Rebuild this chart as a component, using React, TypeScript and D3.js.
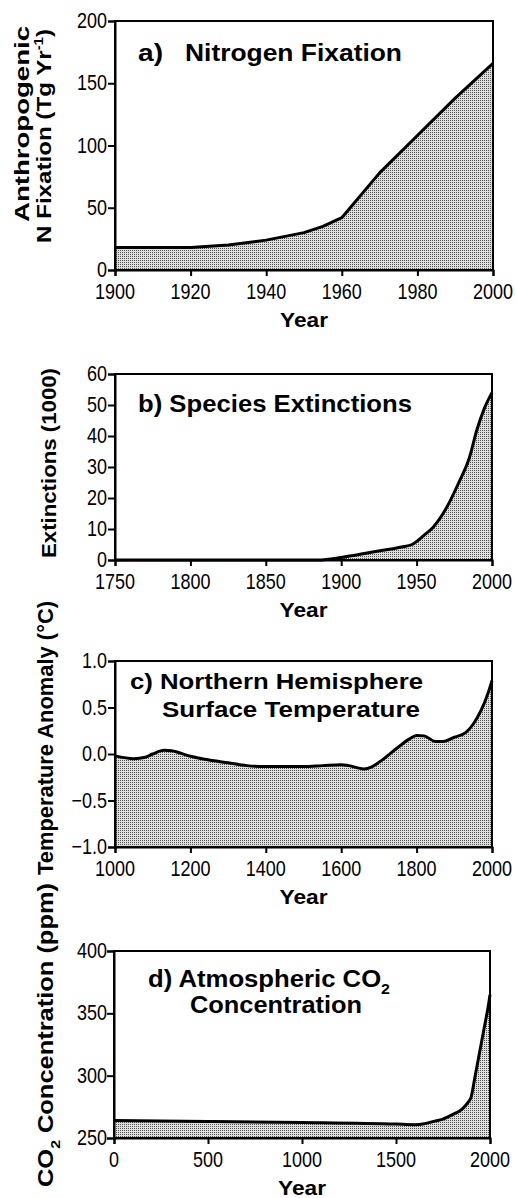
import React, { useEffect, useRef } from "react";
import * as d3 from "d3";

type Pt = [number, number];

// values: [year, value]
const nitrogenData: Pt[] = [
  [1900, 18], [1910, 18], [1920, 18], [1930, 20], [1940, 24], [1950, 30],
  [1955, 35], [1960, 42], [1970, 78], [1980, 108], [1990, 138], [2000, 166],
];
const extinctionData: Pt[] = [
  [1750, 0], [1800, 0], [1850, 0], [1885, 0], [1900, 0.8], [1920, 2.5],
  [1940, 4.2], [1947, 5], [1955, 8], [1961, 10.6], [1970, 17], [1978, 25],
  [1985, 33], [1990, 42], [1995, 49], [2000, 54],
];
const temperatureData: Pt[] = [
  [1000, -0.02], [1050, -0.05], [1080, -0.035], [1100, 0], [1130, 0.04],
  [1150, 0.035], [1200, -0.025], [1250, -0.065], [1300, -0.095], [1350, -0.125],
  [1400, -0.135], [1500, -0.135], [1550, -0.125], [1600, -0.115], [1620, -0.125],
  [1660, -0.16], [1680, -0.14], [1700, -0.09], [1750, 0.07], [1780, 0.16],
  [1800, 0.2], [1820, 0.195], [1850, 0.135], [1870, 0.135], [1900, 0.18],
  [1930, 0.23], [1950, 0.32], [1970, 0.46], [1990, 0.66], [2000, 0.79],
];
const co2Data: Pt[] = [
  [0, 264.1], [500, 263.3], [1000, 262.5], [1500, 261.2], [1600, 260.7],
  [1650, 261.5], [1700, 263.3], [1750, 265.2], [1800, 268.7], [1850, 273],
  [1880, 278], [1900, 283], [1920, 299], [1950, 323], [1970, 339],
  [1990, 355], [2000, 365],
];

const nitrogenYearTicks = [1900, 1920, 1940, 1960, 1980, 2000];
const nitrogenValueTicks = [0, 50, 100, 150, 200];
const extinctionYearTicks = [1750, 1800, 1850, 1900, 1950, 2000];
const extinctionValueTicks = [0, 10, 20, 30, 40, 50, 60];
const temperatureYearTicks = [1000, 1200, 1400, 1600, 1800, 2000];
const temperatureValueTicks = [-1, -0.5, 0, 0.5, 1];
const co2YearTicks = [0, 500, 1000, 1500, 2000];
const co2ValueTicks = [250, 300, 350, 400];

type Seg = { t: string; sub?: boolean; sup?: boolean };
type Label = { segs: Seg[]; x: number; y: number; len: number; size: number };

interface Panel {
  data: Pt[];
  xDomain: [number, number];
  yDomain: [number, number];
  left: number;
  right: number;
  top: number;
  bottom: number;
  xTicks: number[];
  yTicks: number[];
  yFormat: (v: number) => string;
  smooth: boolean;
  titles: Label[];
  yLabels: Label[];
}

const FONT = "'Liberation Sans', Arial, Helvetica, sans-serif";

const panels: Panel[] = [
  {
    data: nitrogenData,
    xDomain: [1900, 2000],
    yDomain: [0, 200],
    left: 115, right: 493, top: 21, bottom: 270,
    xTicks: nitrogenYearTicks,
    yTicks: nitrogenValueTicks,
    yFormat: (v) => String(v),
    smooth: false,
    titles: [
      { segs: [{ t: "a)" }], x: 138, y: 61, len: 25, size: 24 },
      { segs: [{ t: "Nitrogen Fixation" }], x: 185, y: 61, len: 217, size: 24 },
    ],
    yLabels: [
      { segs: [{ t: "Anthropogenic" }], x: 29, y: 124, len: 196, size: 21 },
      {
        segs: [{ t: "N Fixation (Tg Yr" }, { t: "-1", sup: true }, { t: ")" }],
        x: 51, y: 136, len: 214, size: 21,
      },
    ],
  },
  {
    data: extinctionData,
    xDomain: [1750, 2000],
    yDomain: [0, 60],
    left: 115, right: 492, top: 374, bottom: 560,
    xTicks: extinctionYearTicks,
    yTicks: extinctionValueTicks,
    yFormat: (v) => String(v),
    smooth: true,
    titles: [
      { segs: [{ t: "b) Species Extinctions" }], x: 138, y: 412, len: 274, size: 23 },
    ],
    yLabels: [
      { segs: [{ t: "Extinctions (1000)" }], x: 56, y: 463, len: 190, size: 21 },
    ],
  },
  {
    data: temperatureData,
    xDomain: [1000, 2000],
    yDomain: [-1, 1],
    left: 115, right: 492, top: 661, bottom: 847,
    xTicks: temperatureYearTicks,
    yTicks: temperatureValueTicks,
    yFormat: d3.format(".1f"),
    smooth: true,
    titles: [
      { segs: [{ t: "c) Northern Hemisphere" }], x: 130, y: 689, len: 293, size: 22 },
      { segs: [{ t: "Surface Temperature" }], x: 162, y: 717, len: 258, size: 22 },
    ],
    yLabels: [
      { segs: [{ t: "Temperature Anomaly (°C)" }], x: 53, y: 738, len: 274, size: 22 },
    ],
  },
  {
    data: co2Data,
    xDomain: [0, 2000],
    yDomain: [250, 400],
    left: 114, right: 490, top: 951, bottom: 1138,
    xTicks: co2YearTicks,
    yTicks: co2ValueTicks,
    yFormat: (v) => String(v),
    smooth: true,
    titles: [
      {
        segs: [{ t: "d) Atmospheric CO" }, { t: "2", sub: true }],
        x: 148, y: 987, len: 242, size: 23,
      },
      { segs: [{ t: "Concentration" }], x: 190, y: 1013, len: 172, size: 23 },
    ],
    yLabels: [
      {
        segs: [{ t: "CO" }, { t: "2", sub: true }, { t: " Concentration (ppm)" }],
        x: 53, y: 1035, len: 304, size: 22,
      },
    ],
  },
];

function addLabel(
  parent: d3.Selection<SVGGElement, unknown, null, undefined>,
  lab: Label,
  opts: { rotate?: boolean; anchor?: string }
) {
  const text = parent
    .append("text")
    .attr(
      "transform",
      opts.rotate
        ? `translate(${lab.x},${lab.y}) rotate(-90)`
        : `translate(${lab.x},${lab.y})`
    )
    .attr("text-anchor", opts.anchor || "start")
    .attr("font-family", FONT)
    .attr("font-weight", "bold")
    .attr("font-size", lab.size)
    .attr("textLength", lab.len)
    .attr("lengthAdjust", "spacingAndGlyphs")
    .attr("fill", "#000");
  let shift = 0;
  lab.segs.forEach((s) => {
    const target = s.sub ? lab.size * 0.3 : s.sup ? -lab.size * 0.4 : 0;
    const ts = text.append("tspan").text(s.t).attr("dy", target - shift);
    if (s.sub || s.sup) ts.attr("font-size", lab.size * 0.62);
    shift = target;
  });
}

const App: React.FC = () => {
  const ref = useRef<SVGSVGElement | null>(null);

  useEffect(() => {
    if (!ref.current) return;
    const svg = d3.select(ref.current);
    svg.selectAll("*").remove();

    const defs = svg.append("defs");
    const pat = defs
      .append("pattern")
      .attr("id", "stipple")
      .attr("width", 2)
      .attr("height", 2)
      .attr("patternUnits", "userSpaceOnUse");
    pat.append("rect").attr("width", 2).attr("height", 2).attr("fill", "#dedede");
    pat.append("rect").attr("width", 1).attr("height", 1).attr("fill", "#555");

    panels.forEach((p) => {
      const g = svg.append("g");
      const x = d3.scaleLinear().domain(p.xDomain).range([p.left, p.right]);
      const y = d3.scaleLinear().domain(p.yDomain).range([p.bottom, p.top]);
      const curve = p.smooth ? d3.curveMonotoneX : d3.curveLinear;

      const area = d3
        .area<Pt>()
        .x((d) => x(d[0]))
        .y0(y(p.yDomain[0]))
        .y1((d) => y(d[1]))
        .curve(curve);
      const line = d3
        .line<Pt>()
        .x((d) => x(d[0]))
        .y((d) => y(d[1]))
        .curve(curve);

      g.append("path").datum(p.data).attr("d", area).attr("fill", "url(#stipple)");
      g.append("path")
        .datum(p.data)
        .attr("d", line)
        .attr("fill", "none")
        .attr("stroke", "#000")
        .attr("stroke-width", 3)
        .attr("stroke-linejoin", "round");

      // frame
      g.append("rect")
        .attr("x", p.left)
        .attr("y", p.top)
        .attr("width", p.right - p.left)
        .attr("height", p.bottom - p.top)
        .attr("fill", "none")
        .attr("stroke", "#000")
        .attr("stroke-width", 2);

      const xAxis = g
        .append("g")
        .attr("transform", `translate(0,${p.bottom})`)
        .call(d3.axisBottom(x).tickValues(p.xTicks).tickSize(6).tickFormat(() => ""));
      const yAxis = g
        .append("g")
        .attr("transform", `translate(${p.left},0)`)
        .call(d3.axisLeft(y).tickValues(p.yTicks).tickSize(7).tickFormat(() => ""));
      [xAxis, yAxis].forEach((a) => {
        a.select(".domain").attr("stroke-width", 2);
        a.selectAll(".tick line").attr("stroke-width", 2);
        a.selectAll("text").remove();
      });

      g.selectAll(null)
        .data(p.xTicks)
        .enter()
        .append("text")
        .attr("transform", (d) => `translate(${x(d)},${p.bottom + 29}) scale(1,1.22)`)
        .attr("text-anchor", "middle")
        .attr("font-family", FONT)
        .attr("font-size", 18)
        .text((d) => String(d));

      g.selectAll(null)
        .data(p.yTicks)
        .enter()
        .append("text")
        .attr("transform", (d) => `translate(107,${y(d) + 7}) scale(1,1.22)`)
        .attr("text-anchor", "end")
        .attr("font-family", FONT)
        .attr("font-size", 18)
        .text((d) => p.yFormat(d));

      addLabel(
        g,
        {
          segs: [{ t: "Year" }],
          x: (p.left + p.right) / 2,
          y: p.bottom + 57,
          len: 48,
          size: 21,
        },
        { anchor: "middle" }
      );
      p.titles.forEach((t) => addLabel(g, t, {}));
      p.yLabels.forEach((t) => addLabel(g, t, { rotate: true, anchor: "middle" }));
    });
  }, []);

  return (
    <svg
      ref={ref}
      width={516}
      height={1198}
      style={{ position: "absolute", left: 0, top: 0, background: "#fff" }}
    ></svg>
  );
};

export default App;
